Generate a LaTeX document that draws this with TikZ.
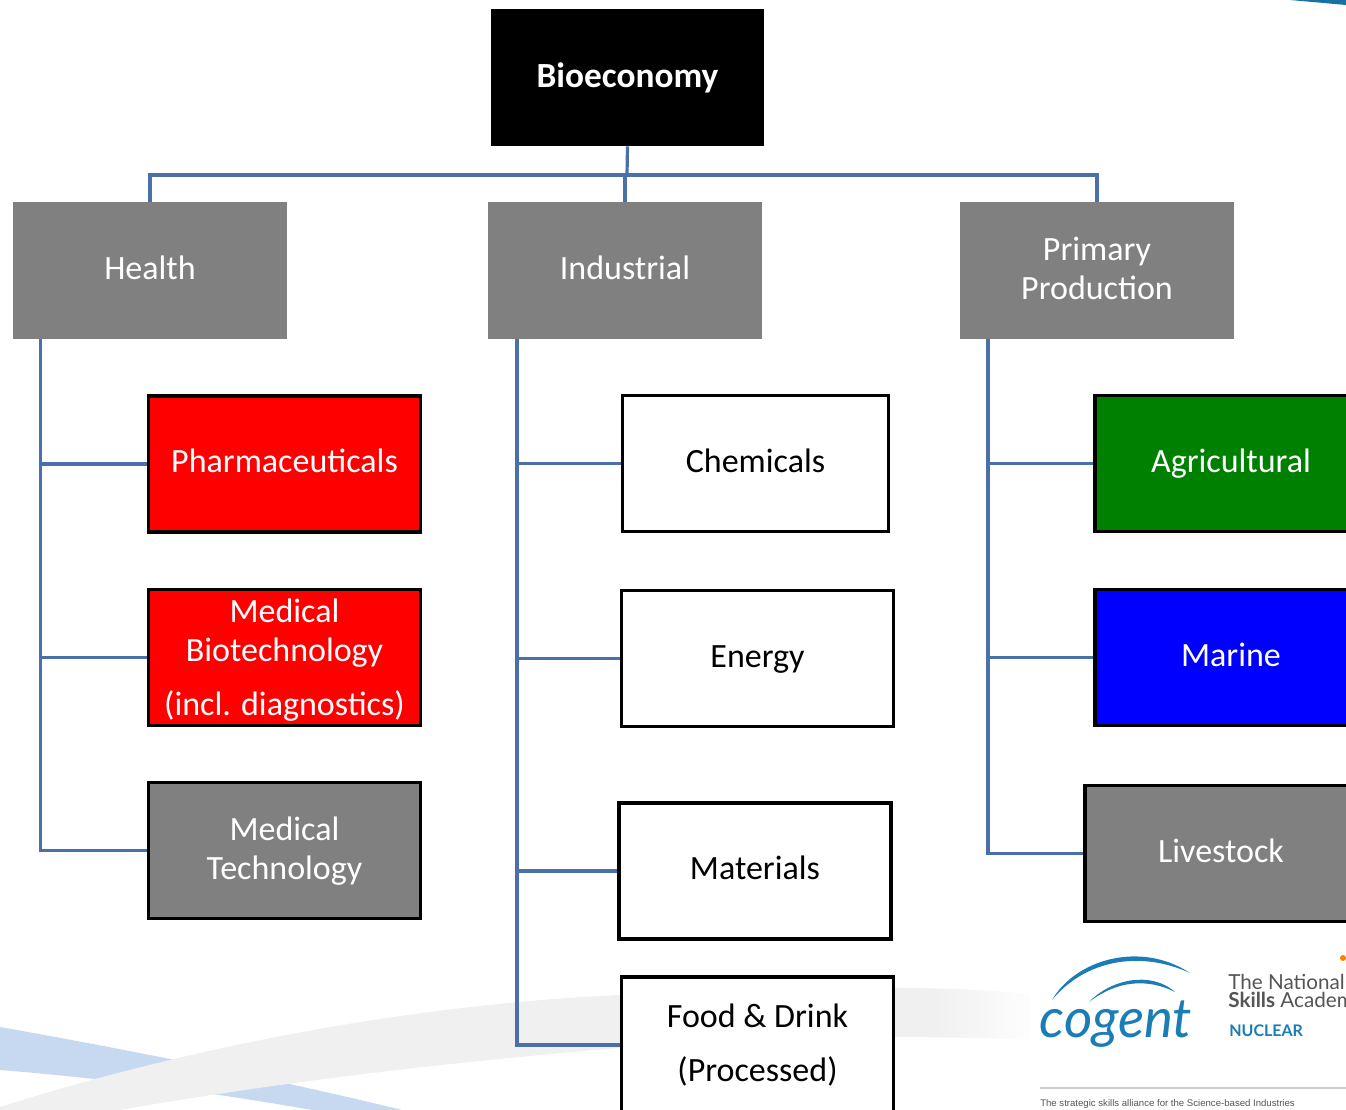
\documentclass[tikz,border=0pt]{standalone}
\usepackage{fontspec}
\setmainfont{Carlito}
\newfontfamily\logofont{Lato}
\newfontfamily\notefont{Liberation Sans}
\definecolor{linkblue}{HTML}{4A70A8}
\definecolor{boxgray}{HTML}{808080}
\definecolor{bandgray}{HTML}{F0F0F0}
\definecolor{bandblue}{HTML}{C6D9F0}
\definecolor{logoblue}{HTML}{1B7DB6}
\definecolor{logogray}{HTML}{555555}
\pgfdeclarehorizontalshading{bandfade}{100bp}{color(0bp)=(bandgray); color(70bp)=(bandgray); color(75bp)=(white); color(100bp)=(white)}
\tikzset{
    box/.style={rectangle,minimum width=205pt,minimum height=103pt,inner sep=0pt,align=center,font=\fontsize{25.5}{29.5}\selectfont,execute at begin node=\rule{0pt}{22pt},execute at end node=\rule[-8.7pt]{0pt}{0pt}},
    tall/.style={text height=#1,text depth=0pt},
    head/.style={box,fill=boxgray,text=white},
    leaf/.style={box,draw=black,line width=2.4pt,minimum width=204pt,minimum height=102pt,fill=#1,text=white},
    plain/.style={box,draw=black,line width=2.4pt,minimum width=204pt,minimum height=102pt,fill=white,text=black},
    link/.style={draw=linkblue,line width=2.4pt}
}
\begin{document}
\begin{tikzpicture}[x=0.75pt,y=-0.75pt]
    \useasboundingbox (0,0) rectangle (1346,1110);
    \fill[bandblue] (0,1027) .. controls (130,1050) and (280,1080) .. (402,1110) -- (312,1110) .. controls (210,1092) and (100,1078) .. (0,1070) -- cycle;
    \shade[shading=bandfade] (0,1107) .. controls (180,1050) and (400,1005) .. (620,995) .. controls (800,985) and (950,985) .. (1040,995) -- (1040,1040) .. controls (900,1035) and (760,1035) .. (620,1048) .. controls (450,1062) and (280,1082) .. (120,1110) -- (0,1110) -- cycle;
    \fill[logoblue!90!black] (1290,0) -- (1346,0) -- (1346,5) -- cycle;

    \node[box,fill=black,text=white,font=\fontsize{26.5}{29}\selectfont\bfseries,execute at begin node=\rule{0pt}{23.5pt}] (bio) at (627.5,77.5) {Bioeconomy};
    \node[head] (health) at (150,270.5) {Health};
    \node[head] (industrial) at (625,270.5) {Industrial};
    \node[head,tall=44.2pt] (primary) at (1097,270.5) {Primary\\Production};

    \node[leaf=red] (pharma) at (284.5,464) {Pharmaceuticals};
    \node[leaf=red,tall=87.7pt] (medbio) at (284.5,657.5) {Medical\\Biotechnology\\[11pt](incl. diagnostics)};
    \node[leaf=boxgray,tall=44.2pt] (medtech) at (284.5,850.5) {Medical\\Technology};

    \node[plain,minimum width=199pt] (chem) at (755.5,463.5) {Chemicals};
    \node[plain] (energy) at (757.5,658.5) {Energy};
    \node[plain] (materials) at (755,871) {Materials};
    \node[plain,tall=54pt] (food) at (757.5,1045) {Food \& Drink\\[11pt](Processed)};

    \node[leaf={green!50!black}] (agri) at (1231,463.5) {Agricultural};
    \node[leaf=blue] (marine) at (1231,657.5) {Marine};
    \node[leaf=boxgray] (livestock) at (1221,853.5) {Livestock};

    \coordinate (bus) at (627,175);
    \coordinate (healthroot) at (40.5,339);
    \coordinate (industrialroot) at (517,339);
    \coordinate (primaryroot) at (988,339);

    \draw[link] (bio.south) -- (bus);
    \draw[link] (bus) -| (health.north);
    \draw[link] (bus) -| (industrial.north);
    \draw[link] (bus) -| (primary.north);
    \draw[link] (healthroot) |- (pharma.west);
    \draw[link] (healthroot) |- (medbio.west);
    \draw[link] (healthroot) |- (medtech.west);
    \draw[link] (industrialroot) |- (chem.west);
    \draw[link] (industrialroot) |- (energy.west);
    \draw[link] (industrialroot) |- (materials.west);
    \draw[link] (industrialroot) |- (food.west);
    \draw[link] (primaryroot) |- (agri.west);
    \draw[link] (primaryroot) |- (marine.west);
    \draw[link] (primaryroot) |- (livestock.west);

    \fill[white] (1030,945) rectangle (1346,1110);
    \fill[logoblue] (1052,1000) .. controls (1075,960) and (1140,940) .. (1190,973) .. controls (1140,950) and (1085,960) .. cycle;
    \fill[logoblue] (1089,1002) .. controls (1110,980) and (1150,970) .. (1175,992) .. controls (1145,977) and (1115,982) .. cycle;
    \node[anchor=center,inner sep=0pt,text=logoblue,font=\logofont\itshape\fontsize{41}{48}\selectfont] (cogent) at (1116,1024) {cogent};
    \node[anchor=west,inner sep=0pt,text=logogray,font=\logofont\fontsize{15.5}{19}\selectfont] (national) at (1228,982) {The National};
    \node[anchor=west,inner sep=0pt,text=logogray,font=\logofont\fontsize{15.5}{19}\selectfont] (skills) at (1228,1002) {\textbf{Skills} Academy};
    \node[anchor=west,inner sep=0pt,text=logoblue,font=\logofont\bfseries\fontsize{12}{14}\selectfont] (nuclear) at (1229,1031) {NUCLEAR};
    \fill[orange] (1343,958) circle (3);
    \coordinate (ruleleft) at (1040,1088);
    \coordinate (ruleright) at (1346,1088);
    \draw[black!20,line width=0.8pt] (ruleleft) -- (ruleright);
    \node[anchor=west,inner sep=0pt,text=logogray,font=\notefont\fontsize{7.2}{9}\selectfont] (strapline) at (1040,1104) {The strategic skills alliance for the Science-based Industries};
\end{tikzpicture}
\end{document}
